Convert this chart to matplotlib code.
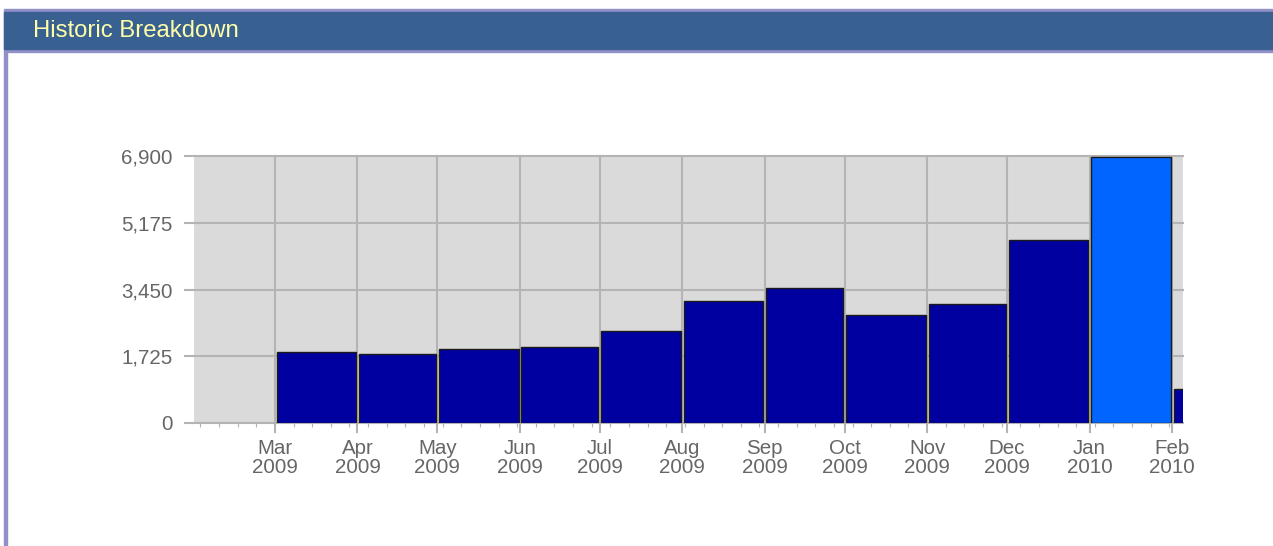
import datetime as dt
import matplotlib
matplotlib.use("Agg")
import matplotlib.pyplot as plt
import matplotlib.dates as mdates
from matplotlib.patches import Rectangle

plt.rcParams['font.family'] = ['Liberation Sans', 'DejaVu Sans']

# monthly totals, Mar 2009 .. Feb 2010 (Feb is a partial month)
months = ["2009-03", "2009-04", "2009-05", "2009-06", "2009-07", "2009-08",
          "2009-09", "2009-10", "2009-11", "2009-12", "2010-01", "2010-02"]
values = [1830, 1775, 1905, 1972, 2385, 3145, 3485, 2790, 3067, 4720, 6866, 870]
highlight = "2010-01"
yticks = [0, 1725, 3450, 5175, 6900]
title = "Historic Breakdown"

W, H, dpi = 1273, 546, 100
fig = plt.figure(figsize=(W / dpi, H / dpi), dpi=dpi)

# header bar + frame
purple = '#9290C8'
fig.patches.append(Rectangle((4 / W, 1 - 52 / H), 1 - 4 / W, 43 / H,
                             transform=fig.transFigure, color=purple, zorder=0))
fig.patches.append(Rectangle((4 / W, 1 - 49 / H), 1 - 4 / W, 37 / H,
                             transform=fig.transFigure, color='#386192', zorder=1))
fig.patches.append(Rectangle((4 / W, 0), 3 / W, 1 - 52 / H,
                             transform=fig.transFigure, color=purple, zorder=0))
fig.text(33 / W, 1 - 31 / H, title, color='#FFFFAA', fontsize=17.2,
         va='center', ha='left')

ax = fig.add_axes([194 / W, 1 - 423 / H, (1183 - 194) / W, (423 - 156) / H])
ax.set_facecolor('#DADADA')

starts = [dt.datetime.strptime(m, "%Y-%m") for m in months]
ends = [dt.datetime(s.year + (s.month == 12), s.month % 12 + 1, 1) for s in starts]
left = [mdates.date2num(s) + 0.6 for s in starts]
width = [mdates.date2num(e) - mdates.date2num(s) - 1.1 for s, e in zip(starts, ends)]
colors = ['#0066FF' if m == highlight else '#0000A0' for m in months]
ax.bar(left, values, width=width, align='edge', color=colors,
       edgecolor='#1a1a1a', linewidth=1, zorder=3)

ax.set_xlim(mdates.date2num(dt.datetime(2009, 1, 29, 14)),
            mdates.date2num(dt.datetime(2010, 2, 5, 3)))
ax.set_ylim(0, 6900)

ax.set_xticks([mdates.date2num(s) for s in starts])
ax.xaxis.set_major_formatter(mdates.DateFormatter('%b\n%Y'))
ax.xaxis.set_minor_locator(mdates.WeekdayLocator(byweekday=mdates.SU))
ax.set_yticks(yticks)
ax.set_yticklabels([f"{v:,}" for v in yticks])

for s in ax.spines.values():
    s.set_visible(False)
ax.set_axisbelow(True)
ax.grid(True, which='major', color='#B4B4B4', linewidth=1.5)
for gl in ax.get_xgridlines() + ax.get_ygridlines():
    gl.set_clip_on(False)

ax.tick_params(axis='both', which='major', colors='#B4B4B4', width=1.5,
               length=7.2, labelcolor='#666666', labelsize=14.8)
ax.tick_params(axis='y', pad=8)
ax.tick_params(axis='x', pad=4)
ax.tick_params(axis='x', which='minor', colors='#B4B4B4', width=0.8, length=3)
for lbl in ax.get_xticklabels():
    lbl.set_linespacing(1.0)

fig.savefig("out.png", dpi=dpi)
